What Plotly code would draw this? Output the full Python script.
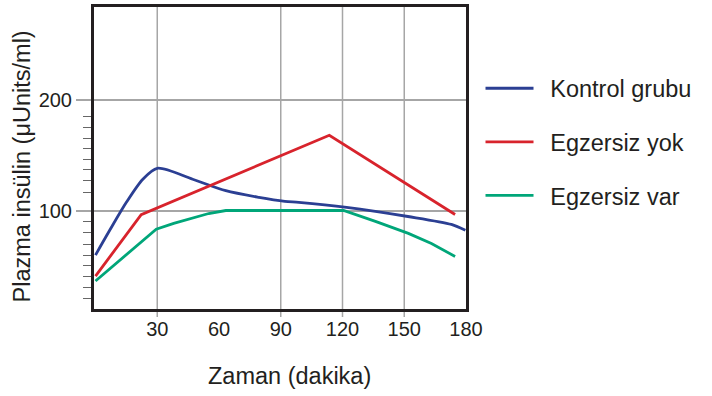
import plotly.graph_objects as go

# Plasma insulin over time (minutes) for three groups
ctrl_t = [0, 6.9, 15, 23, 30, 47.2, 63.3, 79.4, 92, 98.8, 122, 151.8, 172.9, 179.7]
ctrl_v = [60.0, 82.4, 107.7, 128.6, 138.5, 128.6, 118.2, 112.2, 108.6, 107.7, 103.2, 94.9, 87.7, 82.4]

noex_t = [0, 22.2, 113.6, 174.7]
noex_v = [41.0, 96.6, 168.3, 96.7]

ex_t = [0, 29.5, 38, 47, 55, 63.3, 120.5, 136, 152, 163.2, 174.7]
ex_v = [36.6, 83.4, 88.6, 93.7, 97.6, 100.3, 100.3, 90.5, 79.6, 70.5, 58.8]

names = ["Kontrol grubu", "Egzersiz yok", "Egzersiz var"]
colors = ["#2b3f93", "#d8232c", "#00a679"]

x_labels = [30, 60, 90, 120, 150, 180]
x_grid = [30, 90, 120, 150]
y_labels = [100, 200]
y_minor = [21, 31, 41, 51, 60, 70, 80, 90, 117, 127, 137, 146, 156, 165, 175, 185]

FONT = "Liberation Sans, Arial, sans-serif"
INK = "#231f20"
GRID = "#a6a6a6"
PLOT_H = 305.3  # plot area height in px, used to extend grid ticks below the frame
PAD = "\u2002"  # en space between legend line and label

fig = go.Figure()
series = [(ctrl_t, ctrl_v, "spline"), (noex_t, noex_v, "linear"), (ex_t, ex_v, "linear")]
for i, (t, v, shape) in enumerate(series):
    fig.add_trace(go.Scatter(
        x=t, y=v, mode="lines", name=PAD + names[i], legendgroup=names[i],
        line=dict(color=colors[i], width=2.8, shape=shape,
                  smoothing=0.8 if shape == "spline" else None),
    ))

# vertical grid lines with short tick marks below the frame
shapes = [
    dict(type="line", xref="x", yref="paper", x0=g, x1=g, y0=-8 / PLOT_H, y1=1,
         line=dict(color=GRID, width=1.5), layer="below")
    for g in x_grid
]

fig.update_layout(
    width=712, height=396,
    margin=dict(l=94.2, r=245.5, t=4.2, b=86.5),
    paper_bgcolor="white", plot_bgcolor="white",
    font=dict(family=FONT, color=INK, size=20),
    showlegend=True,
    legend=dict(
        x=1.039, xanchor="left", y=0.803, yanchor="top",
        font=dict(size=23.5, color=INK), tracegroupgap=20, itemwidth=48,
        bgcolor="rgba(0,0,0,0)", borderwidth=0,
    ),
    xaxis=dict(
        range=[-0.73, 180], tickvals=x_labels, ticks="", showgrid=False,
        zeroline=False, showline=True, mirror=True, linewidth=3, linecolor=INK,
        tickfont=dict(size=20, color=INK), layer="above traces",
    ),
    yaxis=dict(
        range=[11.27, 284.3], tickvals=y_labels, ticks="outside", ticklen=15,
        tickwidth=1.5, tickcolor=GRID, showgrid=True, gridcolor=GRID, gridwidth=1.5,
        zeroline=False, showline=True, mirror=True, linewidth=3, linecolor=INK,
        tickfont=dict(size=20, color=INK),
        minor=dict(tickvals=y_minor, ticks="outside", ticklen=8, tickwidth=1.2,
                   tickcolor="#666666", showgrid=False),
    ),
    shapes=shapes,
    annotations=[
        dict(text="Plazma insülin (μUnits/ml)", textangle=-90, showarrow=False,
             xref="paper", yref="paper", x=-0.1926, y=0.4733,
             xanchor="center", yanchor="middle", font=dict(size=23.5, color=INK)),
        dict(text="Zaman (dakika)", showarrow=False,
             xref="paper", yref="paper", x=0.526, y=-0.2211,
             xanchor="center", yanchor="middle", font=dict(size=23.5, color=INK)),
    ],
)

fig.write_html("out.html")
